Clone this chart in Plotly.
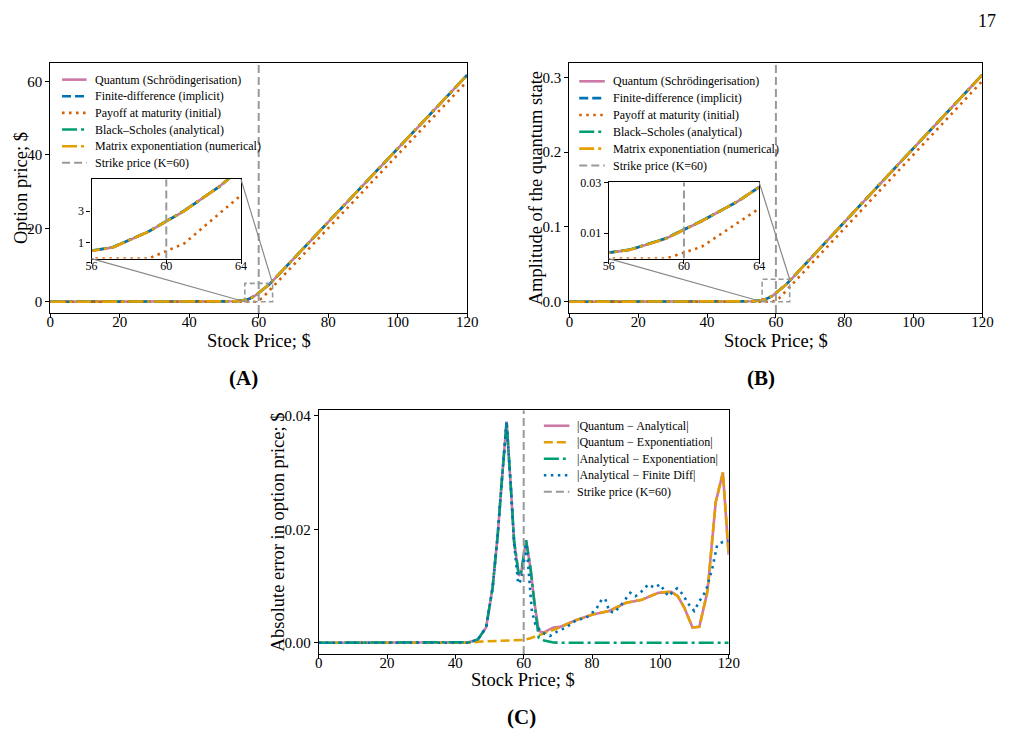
import plotly.graph_objects as go

W, H = 1016, 748
FONT = "Liberation Serif"

# ---------------- data ----------------
stock_grid = [0, 19.05, 38.10, 45.71, 47.62, 49.52, 51.43, 53.33, 55.24, 57.14,
              59.05, 60.95, 62.86, 64.76, 66.67, 68.57, 76.19, 95.24, 114.29, 120.0]

# Panel A: option price ($)
price_quantum = [0, 0, 0, 0, 0.003, 0.01, 0.04, 0.12, 0.34, 0.71,
                 1.70, 3.00, 4.56, 6.42, 8.35, 10.26, 17.88, 36.93, 55.99, 61.70]
price_fd = [0, 0, 0, 0, 0.003, 0.01, 0.04, 0.12, 0.36, 0.72,
            1.71, 3.01, 4.56, 6.42, 8.35, 10.26, 17.88, 36.93, 55.99, 61.69]
price_payoff = [0, 0, 0, 0, 0, 0, 0, 0, 0, 0,
                0, 0.95, 2.86, 4.76, 6.67, 8.57, 16.19, 35.24, 54.29, 60.0]
price_bs = [0, 0, 0, 0, 0.003, 0.01, 0.04, 0.12, 0.38, 0.72,
            1.71, 3.02, 4.56, 6.42, 8.35, 10.26, 17.88, 36.93, 55.99, 61.72]
price_expm = [0, 0, 0, 0, 0.003, 0.01, 0.04, 0.12, 0.34, 0.71,
              1.70, 3.00, 4.56, 6.42, 8.35, 10.26, 17.88, 36.93, 55.99, 61.70]

# Panel B: amplitude of the quantum state
amp_quantum = [0, 0, 0, 0, 0.00002, 0.00005, 0.0002, 0.0006, 0.0015, 0.0035,
               0.0079, 0.0148, 0.0225, 0.0316, 0.0412, 0.0506, 0.0882, 0.1821, 0.2761, 0.3035]
amp_fd = [0, 0, 0, 0, 0.00002, 0.00005, 0.0002, 0.0006, 0.0016, 0.0035,
          0.0080, 0.0148, 0.0225, 0.0316, 0.0412, 0.0506, 0.0882, 0.1821, 0.2761, 0.3034]
amp_payoff = [0, 0, 0, 0, 0, 0, 0, 0, 0, 0,
              0, 0.0047, 0.0141, 0.0234, 0.0328, 0.0422, 0.0797, 0.1734, 0.2671, 0.2952]
amp_bs = [0, 0, 0, 0, 0.00002, 0.00005, 0.0002, 0.0006, 0.0017, 0.0036,
          0.0080, 0.0149, 0.0225, 0.0316, 0.0412, 0.0506, 0.0882, 0.1821, 0.2761, 0.3036]
amp_expm = [0, 0, 0, 0, 0.00002, 0.00005, 0.0002, 0.0006, 0.0015, 0.0035,
            0.0079, 0.0148, 0.0225, 0.0316, 0.0412, 0.0506, 0.0882, 0.1821, 0.2761, 0.3035]

strike = 60

# Panel C: absolute errors
err_qa_x = [0, 40, 44, 46.6, 49, 50.9, 52.4, 53.5, 55.0, 56.2, 57.2, 58.6, 59.3, 60.7, 62.0,
            63.1, 64.4, 65.8, 68.7, 70.6, 75.4, 80.2, 85, 89.8, 94.6, 99.4, 103.2, 105.1,
            107, 109.4, 111.4, 113.8, 116.2, 118.3, 120]
err_qa_y = [0, 0, 0.0001, 0.0006, 0.0027, 0.0097, 0.019, 0.0278, 0.039, 0.0278, 0.0178,
            0.0118, 0.0125, 0.0181, 0.0131, 0.0073, 0.0021, 0.0018, 0.0027, 0.0028, 0.0040,
            0.0050, 0.0056, 0.0070, 0.0076, 0.0088, 0.0090, 0.0082, 0.0062, 0.0027, 0.0028,
            0.0091, 0.0248, 0.0300, 0.0155]

err_qe_x = [0, 44, 47, 52, 56, 60, 62, 63.9, 66.8, 70.6, 75.4, 80.2, 85, 89.8, 94.6, 99.4,
            103.2, 105.1, 107, 109.4, 111.4, 113.8, 116.2, 118.3, 120]
err_qe_y = [0, 0, 0.0002, 0.0003, 0.0004, 0.0005, 0.0008, 0.0012, 0.0018, 0.0027, 0.0040,
            0.0050, 0.0056, 0.0070, 0.0076, 0.0088, 0.0090, 0.0082, 0.0062, 0.0027, 0.0028,
            0.0091, 0.0248, 0.0300, 0.0155]

err_ae_x = [0, 40, 44, 46.6, 49, 50.9, 52.4, 53.5, 55.0, 56.2, 57.2, 58.6, 59.3, 60.7, 62.0,
            63.1, 64.4, 66.0, 68.7, 72, 120]
err_ae_y = [0, 0, 0.0001, 0.0006, 0.0027, 0.0097, 0.019, 0.0278, 0.039, 0.0278, 0.0178,
            0.0118, 0.0125, 0.0181, 0.0131, 0.0073, 0.0009, 0.0004, 0.00005, 0, 0]

err_afd_x = [0, 44, 46.6, 49, 50.9, 52.4, 53.5, 55.0, 56.2, 57.2, 58.4, 59.4, 60.8, 62.4,
             63.4, 65.3, 67.7, 70.1, 72.5, 75.4, 78.3, 81.2, 82.9, 83.9, 85, 86.4, 87.9, 89.8,
             91.2, 92.7, 94.6, 96.5, 98.3, 99.9, 101.3, 102.3, 104.9, 106.6, 108, 109.9,
             111.4, 113.3, 115.2, 116.6, 118.3, 120]
err_afd_y = [0, 0, 0.0006, 0.0027, 0.0097, 0.019, 0.0278, 0.039, 0.0278, 0.0175, 0.0104,
             0.0112, 0.0175, 0.0056, 0.0033, 0.0018, 0.0012, 0.0021, 0.0027, 0.0040, 0.0044,
             0.0059, 0.0077, 0.0077, 0.0056, 0.0053, 0.0062, 0.0076, 0.0088, 0.0082, 0.0091,
             0.0103, 0.0097, 0.0103, 0.0091, 0.0082, 0.0096, 0.0085, 0.0070, 0.0056, 0.0073,
             0.0091, 0.0131, 0.0172, 0.0178, 0.0180]

x_ticks = [0, 20, 40, 60, 80, 100, 120]
ya_ticks = [0, 20, 40, 60]
yb_ticks = [0.0, 0.1, 0.2, 0.3]
yc_ticks = [0.00, 0.02, 0.04]
inset_x_ticks = [56, 60, 64]
inset_a_yticks = [1, 3]
inset_b_yticks = [0.01, 0.03]

labels_ab = ["Quantum (Schrödingerisation)", "Finite-difference (implicit)",
             "Payoff at maturity (initial)", "Black–Scholes (analytical)",
             "Matrix exponentiation (numerical)", "Strike price (K=60)"]
labels_c = ["|Quantum − Analytical|", "|Quantum − Exponentiation|",
            "|Analytical − Exponentiation|", "|Analytical − Finite Diff|",
            "Strike price (K=60)"]

# ---------------- ranges / styles ----------------
x_range = [0, 120]
ya_range = [-3.09, 64.85]
yb_range = [-0.0152, 0.3186]
yc_range = [-0.00196, 0.0410]
inset_x_range = [56, 64]
inset_a_yrange = [0, 5.0]
inset_b_yrange = [0, 0.03]

PINK, BLUE, VERM, GREEN, ORANGE, GRAY = "#CC79A7", "#0072B2", "#D55E00", "#009E73", "#E69F00", "#999999"
LW = 2.6
DASH, DOT, DASHDOT = "9px,4px", "2.5px,4.5px", "15px,4px,3px,4px"
S_Q = dict(color=PINK, width=LW, dash="solid")
S_FD = dict(color=BLUE, width=LW, dash=DASH)
S_PAY = dict(color=VERM, width=LW, dash=DOT)
S_BS = dict(color=GREEN, width=LW, dash=DASHDOT)
S_EX = dict(color=ORANGE, width=LW, dash=DASHDOT)
S_K = dict(color=GRAY, width=2, dash="8px,4px")
STYLES_AB = [S_Q, S_FD, S_PAY, S_BS, S_EX, S_K]
STYLES_C = [S_Q, dict(color=ORANGE, width=LW, dash=DASH), dict(color=GREEN, width=LW, dash=DASHDOT),
            dict(color=BLUE, width=LW, dash=DOT), S_K]


def box(left, top, right, bottom):
    return [left / W, right / W], [1 - bottom / H, 1 - top / H]


A_x, A_y = box(45, 57, 469, 309)
B_x, B_y = box(573, 57, 993, 309)
C_x, C_y = box(318, 407, 735, 653)
IA_x, IA_y = box(87, 174, 239, 254)
IB_x, IB_y = box(613, 177, 766, 254)

fig = go.Figure()


def add(xs, ys, style, xa, ya, name):
    fig.add_trace(go.Scatter(x=xs, y=ys, mode="lines", line=style, name=name, showlegend=False,
                             xaxis=xa, yaxis=ya))


for xa, ya, kr in [("x", "y", ya_range), ("x4", "y4", inset_a_yrange)]:
    for i, vals in enumerate([price_quantum, price_fd, price_payoff, price_bs, price_expm]):
        add(stock_grid, vals, STYLES_AB[i], xa, ya, labels_ab[i])
    add([strike, strike], kr, S_K, xa, ya, labels_ab[5])

for xa, ya, kr in [("x2", "y2", yb_range), ("x5", "y5", inset_b_yrange)]:
    for i, vals in enumerate([amp_quantum, amp_fd, amp_payoff, amp_bs, amp_expm]):
        add(stock_grid, vals, STYLES_AB[i], xa, ya, labels_ab[i])
    add([strike, strike], kr, S_K, xa, ya, labels_ab[5])

for i, (xs, ys) in enumerate([(err_qa_x, err_qa_y), (err_qe_x, err_qe_y),
                              (err_ae_x, err_ae_y), (err_afd_x, err_afd_y)]):
    add(xs, ys, STYLES_C[i], "x3", "y3", labels_c[i])
add([strike, strike], yc_range, S_K, "x3", "y3", labels_c[4])


def axis(domain, rng, anchor, tickvals, fmt=None, size=15, ticktext=None, labels=True):
    d = dict(domain=domain, range=rng, anchor=anchor, showline=True, mirror=True,
             linecolor="black", linewidth=1.1, ticks="outside", ticklen=4, tickwidth=1,
             tickcolor="black", showgrid=False, zeroline=False, tickvals=tickvals,
             showticklabels=labels, tickfont=dict(family=FONT, size=size, color="black"))
    if fmt:
        d["tickformat"] = fmt
    if ticktext:
        d["ticktext"] = ticktext
    return d


def label_axis(domain, rng, over, ydom, up_px, tickvals, size):
    # tick labels of an x axis, set a little closer to the frame than plotly's default offset
    return dict(domain=domain, range=rng, overlaying=over, anchor="free",
                position=ydom[0] + up_px / H, showline=False, ticks="outside", ticklen=4,
                tickcolor="rgba(0,0,0,0)", showgrid=False, zeroline=False, tickvals=tickvals,
                showticklabels=True, tickfont=dict(family=FONT, size=size, color="black"))


fig.update_layout(
    width=W, height=H, margin=dict(l=0, r=0, t=0, b=0),
    paper_bgcolor="white", plot_bgcolor="white", showlegend=False,
    xaxis=axis(A_x, x_range, "y", x_ticks, labels=False),
    yaxis=axis(A_y, ya_range, "x", ya_ticks),
    xaxis2=axis(B_x, x_range, "y2", x_ticks, labels=False),
    yaxis2=axis(B_y, yb_range, "x2", yb_ticks, ".1f"),
    xaxis3=axis(C_x, x_range, "y3", x_ticks, labels=False),
    yaxis3=axis(C_y, yc_range, "x3", yc_ticks, ".2f"),
    xaxis4=axis(IA_x, inset_x_range, "y4", inset_x_ticks, size=12, labels=False),
    yaxis4=axis(IA_y, inset_a_yrange, "x4", inset_a_yticks, size=12),
    xaxis5=axis(IB_x, inset_x_range, "y5", inset_x_ticks, size=12, labels=False),
    yaxis5=axis(IB_y, inset_b_yrange, "x5", inset_b_yticks, size=12, ticktext=["0.01", "0.03"]),
    xaxis6=label_axis(A_x, x_range, "x", A_y, 9, x_ticks, 15),
    xaxis7=label_axis(B_x, x_range, "x2", B_y, 9, x_ticks, 15),
    xaxis8=label_axis(C_x, x_range, "x3", C_y, 9, x_ticks, 15),
    xaxis9=label_axis(IA_x, inset_x_range, "x4", IA_y, 8, inset_x_ticks, 12),
    xaxis10=label_axis(IB_x, inset_x_range, "x5", IB_y, 8, inset_x_ticks, 12),
)
for xa, ya in [("x6", "y"), ("x7", "y2"), ("x8", "y3"), ("x9", "y4"), ("x10", "y5")]:
    fig.add_trace(go.Scatter(x=[None], y=[None], mode="lines", showlegend=False, hoverinfo="skip",
                             xaxis=xa, yaxis=ya))


def to_paper(xv, yv, xdom, ydom, xr, yr):
    px = xdom[0] + (xv - xr[0]) / (xr[1] - xr[0]) * (xdom[1] - xdom[0])
    py = ydom[0] + (yv - yr[0]) / (yr[1] - yr[0]) * (ydom[1] - ydom[0])
    return px, py


shapes = []
annotations = []

for (mx, my, xr_main, yr_main, ix, iy, iyr, xa, ya) in [
        (A_x, A_y, x_range, ya_range, IA_x, IA_y, inset_a_yrange, "x", "y"),
        (B_x, B_y, x_range, yb_range, IB_x, IB_y, inset_b_yrange, "x2", "y2")]:
    shapes.append(dict(type="rect", xref=xa, yref=ya, x0=inset_x_range[0], x1=inset_x_range[1],
                       y0=iyr[0], y1=iyr[1], line=dict(color=GRAY, width=1.6, dash="5px,3px"),
                       fillcolor="rgba(0,0,0,0)"))
    ur = to_paper(inset_x_range[1], iyr[1], mx, my, xr_main, yr_main)
    ll = to_paper(inset_x_range[0], iyr[0], mx, my, xr_main, yr_main)
    shapes.append(dict(type="line", xref="paper", yref="paper", x0=ix[1], y0=iy[1], x1=ur[0], y1=ur[1],
                       line=dict(color="#888888", width=1.2)))
    shapes.append(dict(type="line", xref="paper", yref="paper", x0=ix[0], y0=iy[0], x1=ll[0], y1=ll[1],
                       line=dict(color="#888888", width=1.2)))


# ---- legends (drawn as line samples + text) ----
def legend(labels, styles, sample_x0, sample_x1, text_x, row_y0, row_dy):
    for k, (lab, st) in enumerate(zip(labels, styles)):
        yy = 1 - (row_y0 + k * row_dy) / H
        shapes.append(dict(type="line", xref="paper", yref="paper", x0=sample_x0 / W, x1=sample_x1 / W,
                           y0=yy, y1=yy, line=st))
        annotations.append(dict(text=lab, x=text_x / W, y=yy, xref="paper", yref="paper",
                                showarrow=False, xanchor="left", yanchor="middle",
                                font=dict(family=FONT, size=12, color="black")))


legend(labels_ab, STYLES_AB, 57, 82, 88, 73.3, 16.8)
legend(labels_ab, STYLES_AB, 583, 609, 615, 75.0, 17.0)
legend(labels_c, STYLES_C, 547, 573, 579, 422.7, 16.65)


def ann(text, xpx, ypx, size, angle=0):
    annotations.append(dict(text=text, x=xpx / W, y=1 - ypx / H, xref="paper", yref="paper",
                            showarrow=False, xanchor="center", yanchor="middle", textangle=angle,
                            font=dict(family=FONT, size=size, color="black")))


ann("Stock Price; $", 257, 337, 18.5)
ann("Stock Price; $", 783, 337, 18.5)
ann("Stock Price; $", 526, 679, 18.5)
ann("Option price; $", 16, 183, 18.5, -90)
ann("Amplitude of the quantum state", 539, 183, 18.5, -90)
ann("Absolute error in option price; $", 277, 530, 18.5, -90)
ann("<b>(A)</b>", 242, 374, 21)
ann("<b>(B)</b>", 768, 374, 21)
ann("<b>(C)</b>", 524, 717, 21)
ann("17", 998, 14, 18)

fig.update_layout(shapes=shapes, annotations=annotations)

fig.write_html("out.html")
